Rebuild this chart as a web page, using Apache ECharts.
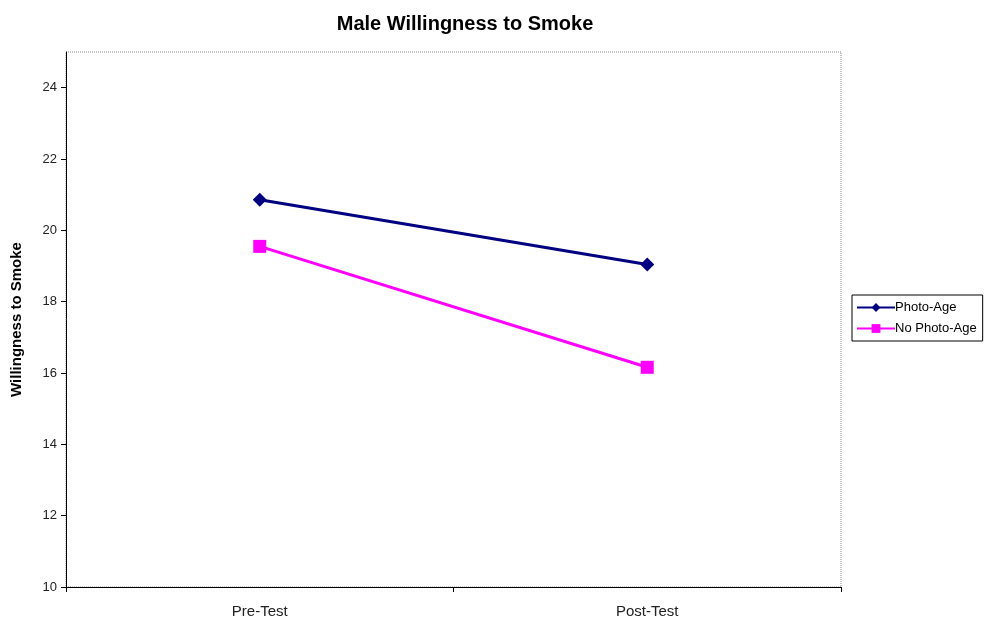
<!DOCTYPE html>
<html><head><meta charset="utf-8">
<script src="https://cdn.jsdelivr.net/npm/echarts@6/dist/echarts.min.js"></script>
<style>html,body{margin:0;padding:0;background:#fff}#c{width:987px;height:623px}</style>
</head><body><div id="c"></div>
<script>
var categories = ['Pre-Test', 'Post-Test'];
var photoAge = [20.86, 19.04];
var noPhotoAge = [19.55, 16.16];
var yTicks = [10, 12, 14, 16, 18, 20, 22, 24];

var chart = echarts.init(document.getElementById('c'));
var F = '"Liberation Sans", Arial, sans-serif';
chart.setOption({
  animation: false,
  title: { text: 'Male Willingness to Smoke', left: 460, top: 9, textAlign: 'center',
    textStyle: { fontFamily: F, fontSize: 20, fontWeight: 'bold', color: '#000' } },
  grid: { left: 66, right: 146, top: 52, bottom: 36, show: true, borderColor: '#888', borderType: 'dotted', borderWidth: 1 },
  legend: {
    orient: 'vertical', left: 852, top: 295, padding: [6, 6, 6, 4], itemGap: 8,
    itemWidth: 38, itemHeight: 11,
    borderColor: '#000', borderWidth: 1, backgroundColor: '#fff',
    textStyle: { fontFamily: F, fontSize: 13, color: '#000', padding: [0, 0, 0, -5] },
    data: ['Photo-Age', 'No Photo-Age']
  },
  xAxis: {
    type: 'category', data: categories, boundaryGap: true,
    axisLine: { lineStyle: { color: '#000', width: 1 } },
    axisTick: { show: true, length: 5, lineStyle: { color: '#000' } },
    axisLabel: { fontFamily: F, fontSize: 15, color: '#222', margin: 17 },
    splitLine: { show: false }
  },
  yAxis: {
    type: 'value', min: 10, max: 25, interval: 2,
    name: 'Willingness to Smoke', nameLocation: 'middle', nameGap: 42,
    nameTextStyle: { fontFamily: F, fontSize: 15, fontWeight: 'bold', color: '#000' },
    axisLine: { show: true, lineStyle: { color: '#000', width: 1 } },
    axisTick: { show: true, length: 5, inside: false, customValues: yTicks, lineStyle: { color: '#000' } },
    axisLabel: { fontFamily: F, fontSize: 13, color: '#222', margin: 9, customValues: yTicks },
    splitLine: { show: false }
  },
  series: [
    { name: 'Photo-Age', type: 'line', data: photoAge, symbol: 'diamond', symbolSize: 14,
      itemStyle: { color: '#000080' }, lineStyle: { color: '#000080', width: 3 } },
    { name: 'No Photo-Age', type: 'line', data: noPhotoAge, symbol: 'rect', symbolSize: 13,
      itemStyle: { color: '#ff00ff' }, lineStyle: { color: '#ff00ff', width: 3 } }
  ]
});
</script></body></html>
